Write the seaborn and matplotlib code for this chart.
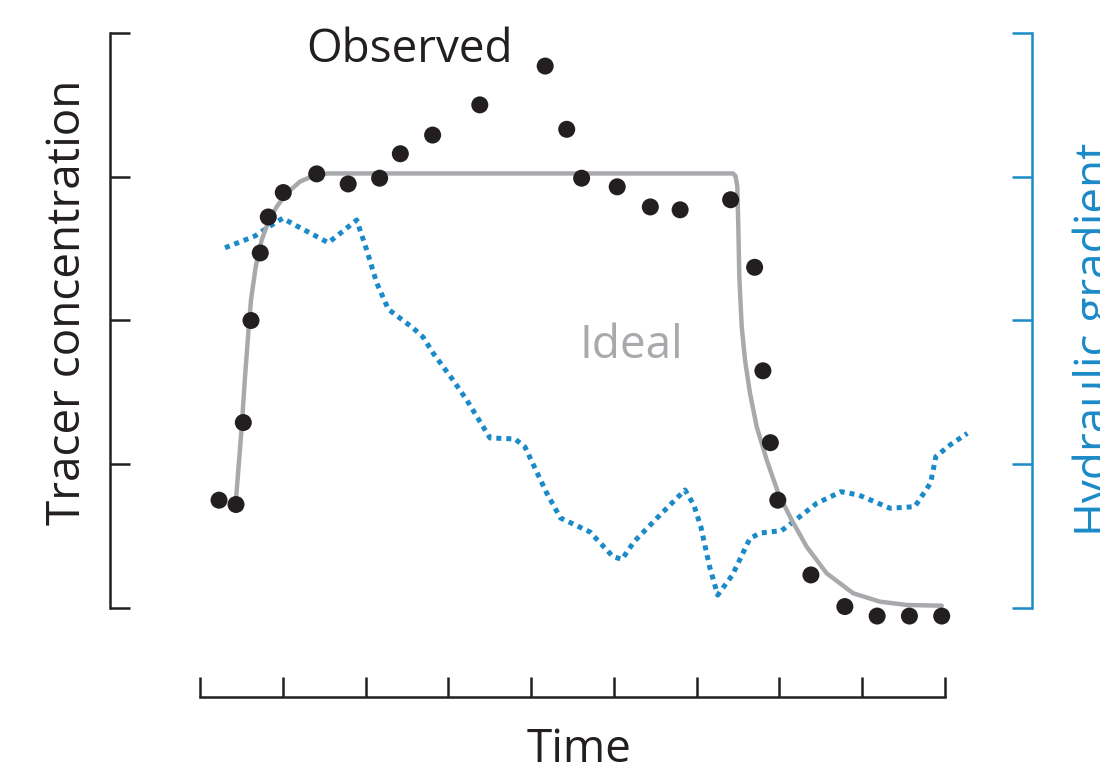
import numpy as np
import pandas as pd
import matplotlib
matplotlib.use("Agg")
import matplotlib.pyplot as plt
import seaborn as sns

# ---- data (time in tick units, values in axis units) ----
obs_time = [0.23, 0.435, 0.523, 0.616, 0.728, 0.825, 1.006, 1.41, 1.79, 2.17, 2.42, 2.81,
            3.38, 4.17, 4.43, 4.61, 5.04, 5.44, 5.80, 6.41, 6.70, 6.80, 6.89, 6.98,
            7.38, 7.79, 8.18, 8.57, 8.96]
obs_conc = [0.75, 0.72, 1.29, 2.00, 2.47, 2.72, 2.89, 3.02, 2.95, 2.99, 3.16, 3.29,
            3.50, 3.77, 3.33, 2.99, 2.93, 2.79, 2.77, 2.84, 2.37, 1.65, 1.15, 0.75,
            0.23, 0.01, -0.056, -0.056, -0.056]

ideal_time = [0.431, 0.463, 0.504, 0.544, 0.583, 0.616, 0.673, 0.745, 0.825, 0.927, 1.047,
              1.208, 1.389, 1.550, 6.439, 6.469, 6.491, 6.503, 6.515, 6.544, 6.584, 6.644,
              6.725, 6.846, 6.986, 7.148, 7.329, 7.571, 7.892, 8.215, 8.537, 8.960]
ideal_conc = [0.728, 0.960, 1.261, 1.609, 1.911, 2.143, 2.374, 2.560, 2.687, 2.792, 2.885,
              2.966, 3.012, 3.023, 3.023, 3.005, 2.931, 2.653, 2.305, 1.957, 1.725, 1.494,
              1.261, 1.030, 0.798, 0.612, 0.426, 0.241, 0.102, 0.044, 0.021, 0.016]

grad_time = [0.302, 0.483, 0.664, 0.846, 0.999, 1.148, 1.329, 1.550, 1.715, 1.893, 2.014,
             2.135, 2.275, 2.577, 2.694, 2.815, 3.056, 3.222, 3.503, 3.805, 3.926, 4.188,
             4.355, 4.711, 4.989, 5.098, 5.243, 5.557, 5.859, 5.965, 6.050, 6.156, 6.254,
             6.432, 6.644, 6.771, 7.025, 7.194, 7.449, 7.743, 7.957, 8.335, 8.635, 8.826,
             8.889, 9.060, 9.270]
grad_value = [2.506, 2.546, 2.588, 2.657, 2.711, 2.664, 2.609, 2.541, 2.616, 2.699, 2.490,
              2.261, 2.078, 1.946, 1.885, 1.774, 1.586, 1.447, 1.183, 1.176, 1.120, 0.800,
              0.626, 0.529, 0.357, 0.339, 0.461, 0.647, 0.821, 0.717, 0.566, 0.287, 0.090,
              0.230, 0.485, 0.522, 0.538, 0.612, 0.728, 0.809, 0.786, 0.694, 0.705, 0.870,
              1.053, 1.134, 1.215]

x_ticks = list(range(10))
y_ticks = [0, 1, 2, 3, 4]

BLACK = "#231f20"
GRAY = "#a7a9ac"
BLUE = "#1b8ac8"

sns.set_theme(style="ticks")
plt.rcParams["font.family"] = ["Open Sans", "DejaVu Sans"]

fig = plt.figure(figsize=(11, 7.64), dpi=100)
ax = fig.add_axes([0.1, 1 - 697 / 764, 922 / 1100, 664 / 764])
ax2 = ax.twinx()

obs_df = pd.DataFrame({"time": obs_time, "conc": obs_conc})
ideal_df = pd.DataFrame({"time": ideal_time, "conc": ideal_conc})
grad_df = pd.DataFrame({"time": grad_time, "grad": grad_value})

xlim = (-90 / 82.78, 832 / 82.78)
ylim = (-89 / 143.75, 4.0)

# hydraulic gradient (right axis)
sns.lineplot(data=grad_df, x="time", y="grad", ax=ax2, color=BLUE, lw=3.6,
             linestyle=(0, (1, 1)), estimator=None, sort=False)
ax2.lines[0].set_dash_capstyle("butt")

# ideal curve + observed points
sns.lineplot(data=ideal_df, x="time", y="conc", ax=ax, color=GRAY, lw=3.2,
             estimator=None, sort=False)
ax.lines[0].set_solid_joinstyle("round")
sns.scatterplot(data=obs_df, x="time", y="conc", ax=ax, color=BLACK, s=150,
                edgecolor="none", zorder=5)

ax.set_zorder(ax2.get_zorder() + 1)
ax.patch.set_visible(False)

for a in (ax, ax2):
    a.set_xlim(*xlim)
    a.set_ylim(*ylim)

ax.set_xticks(x_ticks)
ax.set_yticks(y_ticks)
ax.set_xticklabels([])
ax.set_yticklabels([])
ax2.set_yticks(y_ticks)
ax2.set_yticklabels([])

ax.tick_params(axis="both", direction="in", length=14.4, width=1.8, color=BLACK)
ax2.tick_params(axis="y", direction="in", length=14.4, width=1.8, color=BLUE)

for s in ("top", "right"):
    ax.spines[s].set_visible(False)
ax.spines["left"].set_bounds(0, 4)
ax.spines["bottom"].set_bounds(0, 9)
for s in ("left", "bottom"):
    ax.spines[s].set_linewidth(1.8)
    ax.spines[s].set_color(BLACK)

for s in ("top", "left", "bottom"):
    ax2.spines[s].set_visible(False)
ax2.spines["right"].set_bounds(0, 4)
ax2.spines["right"].set_linewidth(1.8)
ax2.spines["right"].set_color(BLUE)

fs = 33
ax.set_xlabel("Time", fontsize=fs, color=BLACK)
ax.xaxis.set_label_coords((579 - 110) / 922, (697 - 762) / 664)
ax.xaxis.label.set_verticalalignment("baseline")

ax.set_ylabel("Tracer concentration", fontsize=fs, color=BLACK)
ax.yaxis.set_label_coords((80 - 110) / 922, (697 - 302) / 664)
ax.yaxis.label.set_verticalalignment("baseline")
ax.yaxis.label.set_rotation_mode("anchor")

ax2.set_ylabel("Hydraulic gradient", fontsize=fs, color=BLUE, rotation=90)
ax2.yaxis.set_label_coords((1108 - 110) / 922, (697 - 339) / 664)
ax2.yaxis.label.set_verticalalignment("baseline")
ax2.yaxis.label.set_rotation_mode("anchor")

ax.text(2.537, 3.798, "Observed", fontsize=fs, color=BLACK, ha="center", va="baseline")
ax.text(5.207, 1.739, "Ideal", fontsize=fs, color=GRAY, ha="center", va="baseline")

fig.savefig("out.png", dpi=100)
